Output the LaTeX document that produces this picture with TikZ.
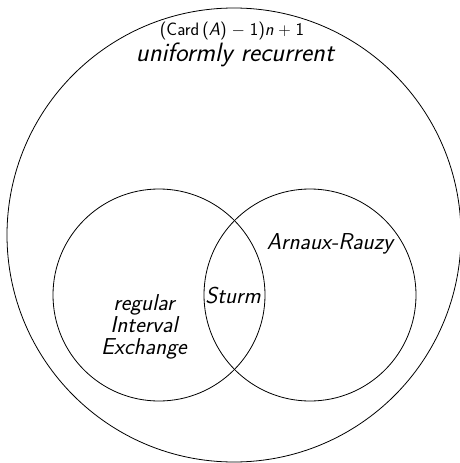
\documentclass[tikz,border=0pt]{standalone}
\begin{document}
\begin{tikzpicture}[x=1pt,y=-1pt,
  ring/.style={draw,circle,inner sep=0pt,line width=0.8pt},
  lab/.style={font=\sffamily\itshape\fontsize{23}{22}\selectfont,inner sep=0pt,align=center},
  biglab/.style={font=\sffamily\itshape\fontsize{26.5}{26}\selectfont,inner sep=0pt},
  toplab/.style={font=\sffamily\fontsize{18}{18}\selectfont,inner sep=0pt}]
\useasboundingbox (0,0) rectangle (460,463);
\node[ring,minimum size=454pt] (big) at (234,235) {};
\node[ring,minimum size=212pt] (left) at (159,295) {};
\node[ring,minimum size=212pt] (right) at (310,295) {};
\node[toplab] (cplx) at (232,31) {(Card\,(\textit{A})$\;-\;$1)\textit{n}$\;+\;$1};
\node[biglab] (ur) at (235,55) {uniformly recurrent};
\node[lab] (ar) at (330,244) {Arnaux-Rauzy};
\node[lab] (st) at (233,296) {Sturm};
\node[lab] (rie) at (144,327) {regular\\Interval\\Exchange};
\end{tikzpicture}
\end{document}
